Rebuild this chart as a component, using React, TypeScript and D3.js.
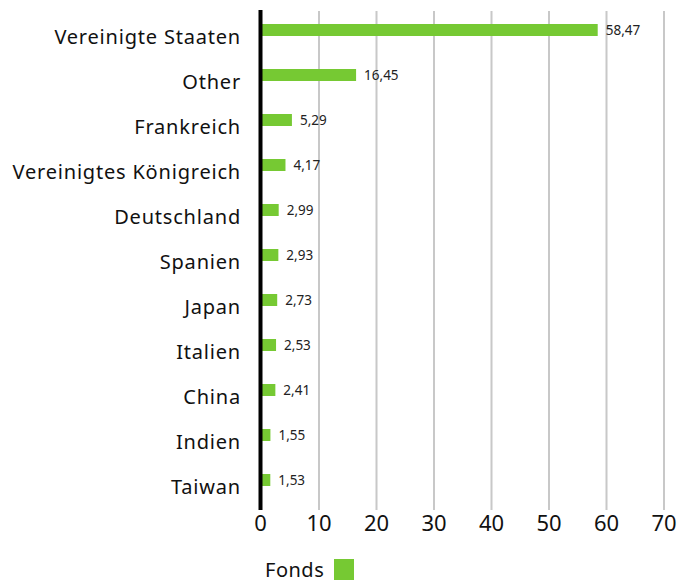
import { useEffect, useRef } from "react";
import * as d3 from "d3";

const COUNTRIES = [
  "Vereinigte Staaten",
  "Other",
  "Frankreich",
  "Vereinigtes Königreich",
  "Deutschland",
  "Spanien",
  "Japan",
  "Italien",
  "China",
  "Indien",
  "Taiwan",
];
const FONDS = [58.47, 16.45, 5.29, 4.17, 2.99, 2.93, 2.73, 2.53, 2.41, 1.55, 1.53];
const X_TICKS = [0, 10, 20, 30, 40, 50, 60, 70];
const SERIES_NAME = "Fonds";

const W = 679;
const H = 580;
const BAR_COLOR = "#76c933";
const FONT = "'Noto Sans', 'Open Sans', sans-serif";

export default function App() {
  const svgRef = useRef<SVGSVGElement | null>(null);

  useEffect(() => {
    if (!svgRef.current) return;
    const svg = d3.select(svgRef.current);
    svg.selectAll("*").remove();

    const x = d3.scaleLinear().domain([0, 70]).range([261.5, 664]);
    const y = d3.scaleBand<string>().domain(COUNTRIES).range([7.5, 502.5]).padding(0);
    const barH = 12;
    const fmt = (v: number) => v.toFixed(2).replace(".", ",");

    // grid
    svg.append("g")
      .selectAll("line")
      .data(X_TICKS.filter((t) => t > 0))
      .join("line")
      .attr("x1", (d) => x(d))
      .attr("x2", (d) => x(d))
      .attr("y1", 11)
      .attr("y2", 510)
      .attr("stroke", "#c8c8c8")
      .attr("stroke-width", 2);

    // bars
    svg.append("g")
      .selectAll("rect")
      .data(FONDS)
      .join("rect")
      .attr("x", x(0))
      .attr("y", (_, i) => y(COUNTRIES[i])! + y.bandwidth() / 2 - barH / 2)
      .attr("width", (d) => x(d) - x(0))
      .attr("height", barH)
      .attr("fill", BAR_COLOR);

    // value labels
    svg.append("g")
      .selectAll("text")
      .data(FONDS)
      .join("text")
      .attr("x", (d) => x(d) + 8)
      .attr("y", (_, i) => y(COUNTRIES[i])! + y.bandwidth() / 2 + 5)
      .attr("font-family", FONT)
      .attr("font-size", 13.5)
      .attr("fill", "#222")
      .text((d) => fmt(d));

    // category labels
    svg.append("g")
      .selectAll("text")
      .data(COUNTRIES)
      .join("text")
      .attr("x", 241)
      .attr("y", (d) => y(d)! + y.bandwidth() / 2 + 14)
      .attr("text-anchor", "end")
      .attr("font-family", FONT)
      .attr("font-size", 20)
      .attr("letter-spacing", 0.8)
      .attr("fill", "#111")
      .text((d) => d);

    // zero axis line
    svg.append("line")
      .attr("x1", x(0) - 1)
      .attr("x2", x(0) - 1)
      .attr("y1", 10)
      .attr("y2", 510)
      .attr("stroke", "#000")
      .attr("stroke-width", 4);

    // x tick labels
    svg.append("g")
      .selectAll("text")
      .data(X_TICKS)
      .join("text")
      .attr("x", (d) => x(d) - (d === 0 ? 1 : 0))
      .attr("y", 531)
      .attr("text-anchor", "middle")
      .attr("font-family", FONT)
      .attr("font-size", 22)
      .attr("fill", "#111")
      .text((d) => String(d));

    // legend
    const lg = svg.append("g");
    lg.append("text")
      .attr("x", 265)
      .attr("y", 577)
      .attr("font-family", FONT)
      .attr("font-size", 20)
      .attr("letter-spacing", 0.5)
      .attr("fill", "#111")
      .text(SERIES_NAME);
    lg.append("rect")
      .attr("x", 334)
      .attr("y", 559)
      .attr("width", 20)
      .attr("height", 22)
      .attr("fill", BAR_COLOR);
  }, []);

  return (
    <svg
      ref={svgRef}
      width={W}
      height={H}
      style={{ position: "absolute", left: 0, top: 0, background: "#fff" }}
    />
  );
}
